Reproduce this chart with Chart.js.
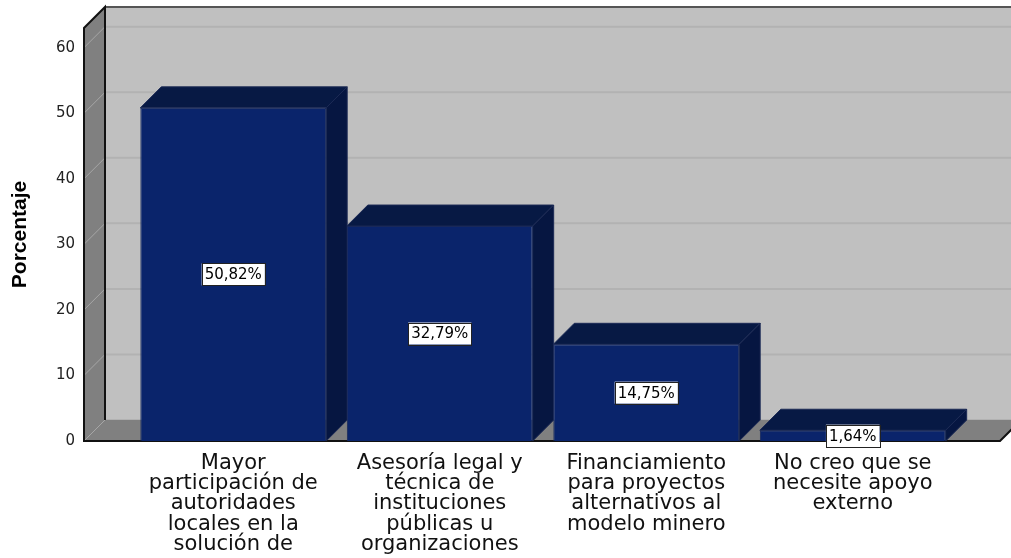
<!DOCTYPE html>
<html>
<head>
<meta charset="utf-8">
<script src="https://cdn.jsdelivr.net/npm/chart.js@4.4.0/dist/chart.umd.min.js"></script>
<style>
  body { margin: 0; background: #fff; }
  canvas { display: block; }
</style>
</head>
<body>
<canvas id="myChart1" width="1011" height="558"></canvas>
<script>
var categories = [
    ["Mayor", "participación de", "autoridades", "locales en la", "solución de"],
    ["Asesoría legal y", "técnica de", "instituciones", "públicas u", "organizaciones"],
    ["Financiamiento", "para proyectos", "alternativos al", "modelo minero"],
    ["No creo que se", "necesite apoyo", "externo"]
];
var porcentaje = [50.82, 32.79, 14.75, 1.64];
var yTicks = [0, 10, 20, 30, 40, 50, 60];

var depth = 21;

// fake 3d: walls, floor, bar tops and sides, value boxes
var bars3d = {
    id: 'bars3d',
    beforeDatasetsDraw: function(chart) {
        var ctx = chart.ctx;
        var a = chart.chartArea;
        var ys = chart.scales.y;
        var fl = a.left - 46, fr = a.right + 44;
        var top = a.top, bot = a.bottom;
        var W = chart.width;

        ctx.save();
        // back wall
        ctx.fillStyle = '#c0c0c0';
        ctx.fillRect(fl + depth, top - depth, W, bot - top);
        ctx.strokeStyle = '#b2b2b2';
        ctx.lineWidth = 2;
        yTicks.forEach(function(v) {
            var py = ys.getPixelForValue(v) - depth;
            ctx.beginPath();
            ctx.moveTo(fl + depth, py);
            ctx.lineTo(W, py);
            ctx.stroke();
        });

        // left wall
        ctx.fillStyle = '#808080';
        ctx.beginPath();
        ctx.moveTo(fl, top);
        ctx.lineTo(fl + depth, top - depth);
        ctx.lineTo(fl + depth, bot - depth);
        ctx.lineTo(fl, bot);
        ctx.closePath();
        ctx.fill();

        // floor
        ctx.beginPath();
        ctx.moveTo(fl, bot);
        ctx.lineTo(fl + depth, bot - depth);
        ctx.lineTo(fr + depth, bot - depth);
        ctx.lineTo(fr, bot);
        ctx.closePath();
        ctx.fill();

        ctx.strokeStyle = '#a6a6a6';
        ctx.lineWidth = 1;
        yTicks.forEach(function(v) {
            var py = ys.getPixelForValue(v);
            ctx.beginPath();
            ctx.moveTo(fl, py);
            ctx.lineTo(fl + depth, py - depth);
            ctx.stroke();
        });

        // edges
        ctx.strokeStyle = '#555';
        ctx.lineWidth = 2;
        ctx.beginPath();
        ctx.moveTo(fl + depth, top - depth);
        ctx.lineTo(W, top - depth);
        ctx.stroke();

        ctx.strokeStyle = '#111';
        ctx.beginPath();
        ctx.moveTo(fl + depth, bot - depth);
        ctx.lineTo(fl + depth, top - depth);
        ctx.lineTo(fl, top);
        ctx.lineTo(fl, bot);
        ctx.lineTo(fr, bot);
        ctx.lineTo(fr + depth, bot - depth);
        ctx.stroke();

        // bar top and side
        var meta = chart.getDatasetMeta(0);
        meta.data.forEach(function(bar) {
            var l = bar.x - bar.width / 2, r = bar.x + bar.width / 2;
            var t = bar.y, b = bar.base;
            ctx.fillStyle = '#071944';
            ctx.strokeStyle = '#1c2a55';
            ctx.lineWidth = 1;
            ctx.beginPath();
            ctx.moveTo(l, t);
            ctx.lineTo(l + depth, t - depth);
            ctx.lineTo(r + depth, t - depth);
            ctx.lineTo(r, t);
            ctx.closePath();
            ctx.fill();
            ctx.stroke();
            ctx.fillStyle = '#061641';
            ctx.beginPath();
            ctx.moveTo(r, t);
            ctx.lineTo(r + depth, t - depth);
            ctx.lineTo(r + depth, b - depth);
            ctx.lineTo(r, b);
            ctx.closePath();
            ctx.fill();
            ctx.stroke();
        });
        ctx.restore();
    },
    afterDatasetsDraw: function(chart) {
        var ctx = chart.ctx;
        var meta = chart.getDatasetMeta(0);
        ctx.save();
        ctx.font = '15px "DejaVu Sans"';
        ctx.textAlign = 'center';
        ctx.textBaseline = 'middle';
        meta.data.forEach(function(bar, i) {
            var txt = porcentaje[i].toFixed(2).replace('.', ',') + '%';
            var w = ctx.measureText(txt).width + 6;
            var h = 22;
            var cy = (bar.y + bar.base) / 2;
            ctx.fillStyle = '#fff';
            ctx.fillRect(bar.x - w / 2, cy - h / 2, w, h);
            ctx.strokeStyle = '#222';
            ctx.lineWidth = 1;
            ctx.strokeRect(Math.round(bar.x - w / 2) + 0.5, Math.round(cy - h / 2) + 0.5, Math.round(w), h);
            ctx.fillStyle = '#000';
            ctx.fillText(txt, bar.x, cy + 1);
        });
        ctx.restore();
    }
};

var ctx = document.getElementById('myChart1');

var chartdata = {
    labels: categories,
    datasets: [
        {
            label: 'Porcentaje',
            backgroundColor: '#0a246b',
            borderColor: '#18285a',
            borderWidth: 1,
            barPercentage: 0.9,
            categoryPercentage: 1,
            data: porcentaje
        }
    ]
};

var myChart = new Chart(ctx, {
    type: 'bar',
    data: chartdata,
    plugins: [bars3d],
    options: {
        responsive: false,
        animation: false,
        layout: { padding: { top: 28, right: 55, left: 0, bottom: 0 } },
        plugins: {
            legend: { display: false },
            tooltip: { enabled: false }
        },
        scales: {
            x: {
                grid: { display: false, drawTicks: false },
                border: { display: false },
                ticks: {
                    autoSkip: false,
                    maxRotation: 0,
                    padding: 12,
                    color: '#111',
                    font: { family: '"DejaVu Sans"', size: 21, lineHeight: 0.97 }
                },
                afterFit: function(scale) { scale.height = 117; }
            },
            y: {
                min: 0,
                max: 63,
                grid: { display: false, drawTicks: false },
                border: { display: false },
                afterBuildTicks: function(scale) {
                    scale.ticks = yTicks.map(function(v) { return { value: v }; });
                },
                ticks: {
                    padding: 55,
                    color: '#222',
                    font: { family: '"DejaVu Sans"', size: 15 }
                },
                title: {
                    display: true,
                    text: 'Porcentaje',
                    color: '#000',
                    padding: { top: 8, bottom: 0 },
                    font: { family: '"Liberation Sans"', size: 21, weight: 'bold' }
                },
                afterFit: function(scale) {
                    scale.width = 130;
                    // big label padding would otherwise push the plot down
                    scale.paddingTop = 0;
                    scale.paddingBottom = 0;
                }
            }
        }
    }
});
</script>
</body>
</html>
